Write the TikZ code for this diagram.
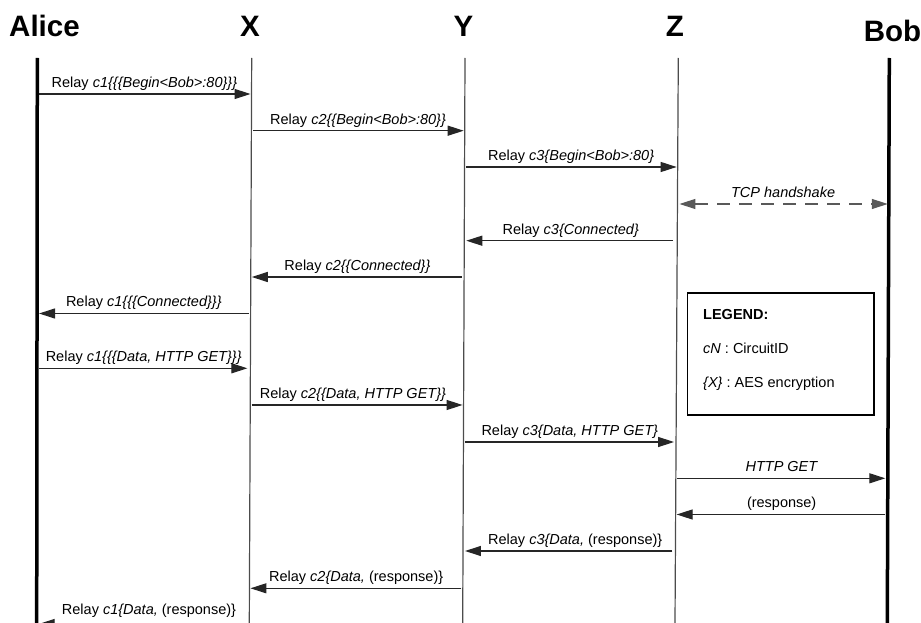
\documentclass[tikz,border=0pt]{standalone}
\usepackage{fontspec}
\setmainfont{Liberation Sans}
\usetikzlibrary{arrows.meta,calc}

% point on lifeline #1 at page height #2 (lifelines run from y=58 to y=623)
\newcommand\onlife[2]{($(#1t)!{(#2-58)/565}!(#1b)$)}

\begin{document}
\begin{tikzpicture}[x=1pt,y=-1pt,
  title/.style={font=\fontsize{29.5}{32}\selectfont\bfseries, anchor=base},
  life/.style={line width=1.2pt, draw=black!70},
  thicklife/.style={line width=3.5pt, draw=black},
  msg/.style={line width=1.2pt, draw=black!85, -{Triangle[length=16pt,width=10pt]},
              shorten <=1.5pt, shorten >=1pt},
  dmsg/.style={line width=1.2pt, draw=black!65, dash pattern=on 13pt off 9pt,
              {Triangle[length=16pt,width=10pt]}-{Triangle[length=16pt,width=10pt]},
              shorten <=2pt, shorten >=1pt},
  lbl/.style={midway, anchor=base, yshift=6.5pt, font=\fontsize{14.5}{16}\selectfont, inner sep=0pt},
  legendbox/.style={draw=black, line width=1.4pt, fill=white},
  legendtxt/.style={anchor=base west, font=\fontsize{14.5}{16}\selectfont, inner sep=0pt}
]
\useasboundingbox (0,0) rectangle (921,623);
\clip (0,0) rectangle (921,623);

% participant names
\node[title] (alice) at (44.5,36.5) {Alice};
\node[title] (x) at (250,36.5) {X};
\node[title] (y) at (463.5,36.5) {Y};
\node[title] (z) at (675,36.5) {Z};
\node[title] (bob) at (892.5,42) {Bob};

% lifelines
\coordinate (At) at (37.3,58);  \coordinate (Ab) at (36.7,623);
\coordinate (Xt) at (251.7,58); \coordinate (Xb) at (249.3,623);
\coordinate (Yt) at (465,58);   \coordinate (Yb) at (462.7,623);
\coordinate (Zt) at (678.3,58); \coordinate (Zb) at (675,623);
\coordinate (Bt) at (889.3,58); \coordinate (Bb) at (887.3,623);
\draw[thicklife] (At) -- (Ab);
\draw[life] (Xt) -- (Xb);
\draw[life] (Yt) -- (Yb);
\draw[life] (Zt) -- (Zb);
\draw[thicklife] (Bt) -- (Bb);

% circuit set-up
\draw[msg, shorten <=2pt] \onlife{A}{94} -- \onlife{X}{94}
  node[lbl] {Relay \textit{c1\{\{\{Begin<Bob>:80\}\}\}}};
\draw[msg] \onlife{X}{130.7} -- \onlife{Y}{130.7}
  node[lbl] {Relay \textit{c2\{\{Begin<Bob>:80\}\}}};
\draw[msg] \onlife{Y}{167} -- \onlife{Z}{167}
  node[lbl] {Relay \textit{c3\{Begin<Bob>:80\}}};
\draw[dmsg] \onlife{Z}{204} -- \onlife{B}{204}
  node[lbl] {\textit{TCP handshake}};
\draw[msg, shorten <=4pt, shorten >=2pt] \onlife{Z}{240.7} -- \onlife{Y}{240.7}
  node[lbl] {Relay \textit{c3\{Connected\}}};
\draw[msg, shorten <=2pt] \onlife{Y}{277} -- \onlife{X}{277}
  node[lbl] {Relay \textit{c2\{\{Connected\}\}}};
\draw[msg, shorten >=2pt] \onlife{X}{313.5} -- \onlife{A}{313.5}
  node[lbl] {Relay \textit{c1\{\{\{Connected\}\}\}}};

% request
\draw[msg, shorten <=2pt, shorten >=3pt] \onlife{A}{368.3} -- \onlife{X}{368.3}
  node[lbl] {Relay \textit{c1\{\{\{Data, HTTP GET\}\}\}}};
\draw[msg] \onlife{X}{405} -- \onlife{Y}{405}
  node[lbl, xshift=-4pt] {Relay \textit{c2\{\{Data, HTTP GET\}\}}};
\draw[msg, shorten >=2pt] \onlife{Y}{442} -- \onlife{Z}{442}
  node[lbl] {Relay \textit{c3\{Data, HTTP GET\}}};
\draw[msg, shorten >=2.5pt] \onlife{Z}{478.3} -- \onlife{B}{478.3}
  node[lbl] {\textit{HTTP GET}};

% response
\draw[msg, shorten <=2.5pt] \onlife{B}{514.5} -- \onlife{Z}{514.5}
  node[lbl] {(response)};
\draw[msg, shorten <=3pt, shorten >=2pt] \onlife{Z}{551} -- \onlife{Y}{551}
  node[lbl, xshift=6pt] {Relay \textit{c3\{Data,} (response)\}};
\draw[msg] \onlife{Y}{588.3} -- \onlife{X}{588.3}
  node[lbl] {Relay \textit{c2\{Data,} (response)\}};
\draw[msg, shorten >=2pt] \onlife{X}{624} -- \onlife{A}{624}
  node[lbl, xshift=6pt, yshift=3pt] {Relay \textit{c1\{Data,} (response)\}};

% legend
\draw[legendbox] (687.5,293) rectangle (874,415);
\node[legendtxt, font=\fontsize{14.5}{16}\selectfont\bfseries] (lg) at (703,319) {LEGEND:};
\node[legendtxt] (lg1) at (703,353.5) {\textit{cN} : CircuitID};
\node[legendtxt] (lg2) at (703,387.5) {\textit{\{X\}} : AES encryption};
\end{tikzpicture}
\end{document}
